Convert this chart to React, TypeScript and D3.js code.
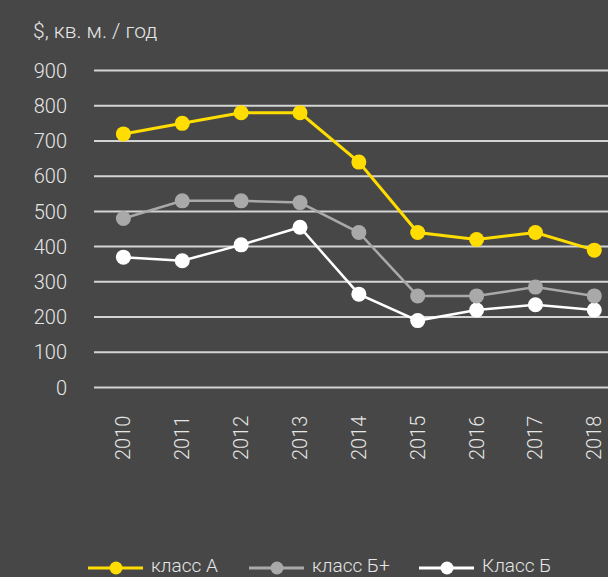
import React from "react";
import * as d3 from "d3";

const years = ["2010", "2011", "2012", "2013", "2014", "2015", "2016", "2017", "2018"];
const classA = [720, 750, 780, 780, 640, 440, 420, 440, 390];
const classBPlus = [480, 530, 530, 525, 440, 260, 260, 285, 260];
const classB = [370, 360, 405, 455, 265, 190, 220, 235, 220];
const yTicks = [0, 100, 200, 300, 400, 500, 600, 700, 800, 900];
const seriesNames = ["класс А", "класс Б+", "Класс Б"];
const seriesColors = ["#ffdd00", "#a9a9aa", "#ffffff"];

const W = 608;
const H = 577;
const FONT = "Roboto, 'DejaVu Sans', sans-serif";

export default function App() {
  const x = d3.scalePoint<string>().domain(years).range([123.4, 594.3]);
  const y = d3.scaleLinear().domain([0, 900]).range([387.5, 70.5]);
  const line = d3
    .line<number>()
    .x((_, i) => x(years[i]) as number)
    .y((d) => y(d));
  const series = [classA, classBPlus, classB];
  const widths = [3, 2.5, 2.5];
  const legendX = [88, 249, 419];

  return (
    <svg
      width={W}
      height={H}
      style={{ position: "absolute", left: 0, top: 0, display: "block" }}
      fontFamily={FONT}
    >
      <rect x={0} y={0} width={W} height={H} fill="#474747" />
      <text x={33} y={38} fill="#e6e6e6" fontSize={21} fontWeight={300}>
        $, кв. м. / год
      </text>
      {yTicks.map((t) => (
        <g key={t}>
          <line x1={94} x2={W} y1={y(t)} y2={y(t)} stroke="#d4d4d4" strokeWidth={2} />
          <text
            x={67}
            y={y(t)}
            dy="0.36em"
            textAnchor="end"
            fill="#e6e6e6"
            fontSize={20}
            fontWeight={300}
          >
            {t}
          </text>
        </g>
      ))}
      {years.map((yr) => (
        <text
          key={yr}
          transform={`translate(${(x(yr) as number) + 7},460) rotate(-90)`}
          textAnchor="start"
          fill="#e6e6e6"
          fontSize={20}
          fontWeight={300}
        >
          {yr}
        </text>
      ))}
      {series
        .map((s, k) => ({ s, k }))
        .reverse()
        .map(({ s, k }) => (
          <g key={k}>
            <path d={line(s) as string} fill="none" stroke={seriesColors[k]} strokeWidth={widths[k]} />
            {s.map((v, i) => (
              <circle key={i} cx={x(years[i]) as number} cy={y(v)} r={7.5} fill={seriesColors[k]} />
            ))}
          </g>
        ))}
      {seriesNames.map((n, k) => (
        <g key={n}>
          <line
            x1={legendX[k]}
            x2={legendX[k] + 55}
            y1={568}
            y2={568}
            stroke={seriesColors[k]}
            strokeWidth={3}
          />
          <circle cx={legendX[k] + 28} cy={568} r={6.5} fill={seriesColors[k]} />
          <text x={legendX[k] + 63} y={572} fill="#e6e6e6" fontSize={19} fontWeight={300}>
            {n}
          </text>
        </g>
      ))}
    </svg>
  );
}
